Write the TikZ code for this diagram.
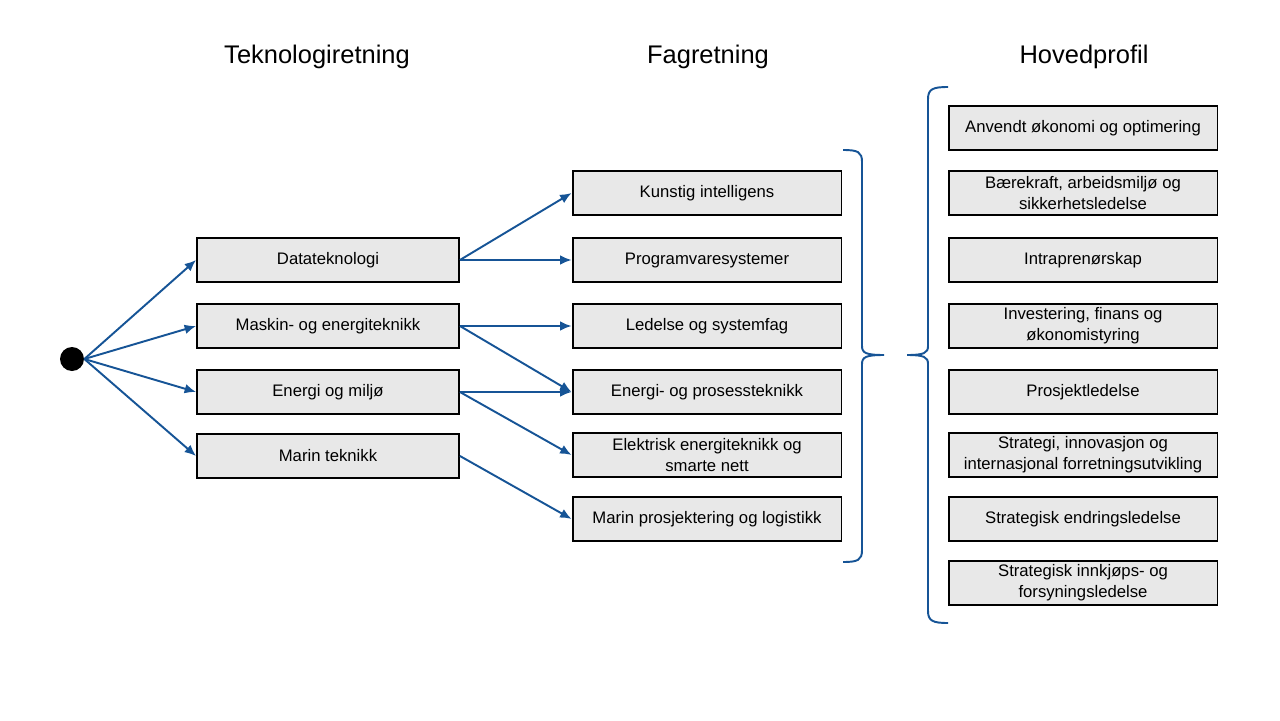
\documentclass[tikz,border=0pt]{standalone}
\usepackage{fontspec}
\setmainfont{Liberation Sans}
\usepackage{tikz}
\usetikzlibrary{arrows.meta}
\definecolor{arrblue}{RGB}{22,84,150}
\tikzset{fagbox/.style={draw=black, line width=1.1pt, fill=black!9, minimum width=5.38cm, minimum height=0.88cm, align=center, inner sep=1pt, font=\fontsize{9.5}{12}\selectfont}}
\tikzset{tekbox/.style={fagbox, minimum width=5.24cm}}
\tikzset{arr/.style={draw=arrblue, line width=1.1pt, -{Latex[length=6.5pt,width=5.5pt]}}}
\tikzset{brace/.style={draw=arrblue, line width=1.1pt}}
\tikzset{coltitle/.style={font=\fontsize{14.5}{17}\selectfont}}

\begin{document}
\begin{tikzpicture}[x=0.02cm, y=-0.02cm]
		\useasboundingbox (0,0) rectangle (1280,720);
		% titles
		\node[coltitle] (ttek) at (317,57) {Teknologiretning};
		\node[coltitle] (tfag) at (708,57) {Fagretning};
		\node[coltitle] (thov) at (1084,57) {Hovedprofil};
		% start
		\node[circle, fill=black, minimum size=0.48cm, inner sep=0pt] (start) at (72,359) {};
		% teknologiretning
		\node[tekbox] (dat) at (328,260) {Datateknologi};
		\node[tekbox] (mas) at (328,326) {Maskin- og energiteknikk};
		\node[tekbox] (enm) at (328,392) {Energi og miljø};
		\node[tekbox] (mar) at (328,456) {Marin teknikk};
		% fagretning
		\node[fagbox] (kun) at (707,193) {Kunstig intelligens};
		\node[fagbox] (pro) at (707,260) {Programvaresystemer};
		\node[fagbox] (led) at (707,326) {Ledelse og systemfag};
		\node[fagbox] (epr) at (707,392) {Energi- og prosessteknikk};
		\node[fagbox] (ele) at (707,455) {Elektrisk energiteknikk og\\smarte nett};
		\node[fagbox] (mpl) at (707,519) {Marin prosjektering og logistikk};
		% hovedprofil
		\node[fagbox] (anv) at (1083,128) {Anvendt økonomi og optimering};
		\node[fagbox] (bae) at (1083,193) {Bærekraft, arbeidsmiljø og\\sikkerhetsledelse};
		\node[fagbox] (int) at (1083,260) {Intraprenørskap};
		\node[fagbox] (inv) at (1083,326) {Investering, finans og\\økonomistyring};
		\node[fagbox] (prl) at (1083,392) {Prosjektledelse};
		\node[fagbox] (str) at (1083,455) {Strategi, innovasjon og\\internasjonal forretningsutvikling};
		\node[fagbox] (sen) at (1083,519) {Strategisk endringsledelse};
		\node[fagbox] (sin) at (1083,583) {Strategisk innkjøps- og\\forsyningsledelse};
		% arrows
		\foreach \t in {dat, mas, enm, mar}
			\draw[arr] (start.east) -- (\t.west);
		\draw[arr] (dat.east) -- (kun.west);
		\draw[arr] (dat.east) -- (pro.west);
		\draw[arr] (mas.east) -- (led.west);
		\draw[arr] (mas.east) -- (epr.west);
		\draw[arr] (enm.east) -- (epr.west);
		\draw[arr] (enm.east) -- (ele.west);
		\draw[arr] (mar.east) -- (mpl.west);
		% braces
		\coordinate (tipr) at (884,355);
		\coordinate (tipl) at (907,355);
		\draw[brace] (843,150) .. controls (858,150) and (862,152) .. (862,162) -- (862,346)
			.. controls (862,353) and (866,355) .. (tipr)
			.. controls (866,355) and (862,357) .. (862,364) -- (862,550)
			.. controls (862,560) and (858,562) .. (843,562);
		\draw[brace] (948,87) .. controls (933,87) and (928,89) .. (928,99) -- (928,346)
			.. controls (928,353) and (924,355) .. (tipl)
			.. controls (924,355) and (928,357) .. (928,364) -- (928,611)
			.. controls (928,621) and (933,623) .. (948,623);
\end{tikzpicture}
\end{document}
